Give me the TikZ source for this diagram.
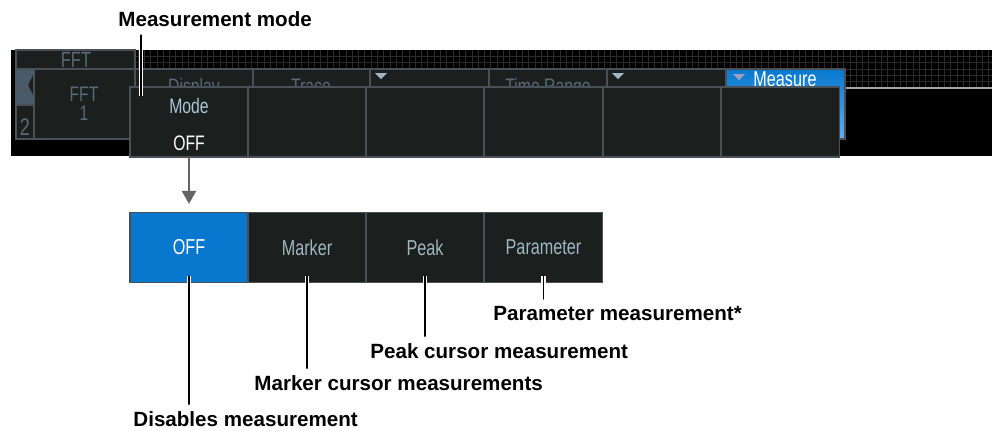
\documentclass[tikz,border=0pt]{standalone}
\usepackage{fontspec}
\setmainfont{Liberation Sans}
\newfontfamily\screenfont[FakeStretch=0.75]{Liberation Sans}
\usetikzlibrary{positioning,arrows.meta}
\definecolor{panel}{RGB}{27,31,30}
\definecolor{edge}{RGB}{74,80,88}
\definecolor{keytext}{RGB}{160,182,192}
\definecolor{modetext}{RGB}{170,200,214}
\definecolor{dimtext}{RGB}{88,106,118}
\definecolor{selblue}{RGB}{8,120,206}
\definecolor{measlight}{RGB}{96,172,240}
\definecolor{gridline}{RGB}{42,42,42}
\definecolor{tabgray}{RGB}{75,90,104}
\definecolor{arrowgray}{RGB}{100,100,100}
\tikzset{
  softkey/.style={draw=edge, fill=panel, line width=0.6pt, minimum width=59pt,
    minimum height=35pt, inner sep=0pt, text=keytext,
    font=\screenfont\fontsize{10.8}{12}\selectfont},
  screentext/.style={inner sep=0pt, anchor=base,
    font=\screenfont\fontsize{10.5}{12}\selectfont},
  callout/.style={inner sep=0pt, anchor=base west,
    font=\fontsize{10.3}{12}\selectfont\bfseries},
  leader/.style={line width=0.75pt, line cap=round,
    preaction={draw=white, line width=2.2pt}},
}

\begin{document}
\begin{tikzpicture}[x=0.5pt, y=-0.5pt]
\useasboundingbox (0,0) rectangle (992,430);

% Screen background and grid
\fill[black] (11,50) rectangle (992,156);
\foreach \gx in {138,144.3,...,992}
  \draw[gridline, line width=0.4pt] (\gx,50) -- (\gx,88);
\foreach \gy in {56.3,62.6,...,88}
  \draw[gridline, line width=0.4pt] (135,\gy) -- (992,\gy);
\draw[gray!70, line width=0.6pt] (845,88) -- (992,88);

% Menu bar behind the soft keys
\foreach \l/\r in {135/253,253/370,370/489,489/607,607/726}
  \draw[edge, fill=panel, line width=0.6pt] (\l,69) rectangle (\r,110);
\node[screentext, text=dimtext] (tabdisplay) at (194,93) {Display};
\node[screentext, text=dimtext] (tabtrace) at (311,93) {Trace};
\node[screentext, text=dimtext] (tabtime) at (548,93) {Time Range};
\fill[keytext] (375,73) -- (387,73) -- (381,79) -- cycle;
\fill[keytext] (612,73) -- (624,73) -- (618,79) -- cycle;

% Measure tab
\shade[top color=selblue, bottom color=measlight] (726,69) rectangle (845,139);
\draw[edge, line width=0.6pt] (726,69) rectangle (845,139);
\fill[gray!75!blue!60] (733,74) -- (745,74) -- (739,80) -- cycle;
\node[screentext, text=white, font=\screenfont\fontsize{10.8}{12}\selectfont]
  (tabmeasure) at (785,86) {Measure};

% FFT trace panel
\draw[edge, fill=panel, line width=0.6pt] (16,50) rectangle (135,139);
\draw[edge, line width=0.6pt] (16,69) -- (135,69);
\draw[edge, line width=0.6pt] (34,69) -- (34,139);
\fill[tabgray] (16,70) -- (34,70) -- (34,73) -- (28,85) -- (34,97) -- (34,105)
  -- (16,105) -- cycle;
\draw[edge, line width=0.6pt] (16,105) -- (34,105);
\node[screentext, text=dimtext, font=\screenfont\fontsize{11}{12}\selectfont]
  (ffthead) at (76,67) {FFT};
\node[screentext, text=dimtext] (fftname) at (84,101) {FFT};
\node[screentext, text=dimtext] (fftnum) at (84,120) {1};
\node[screentext, text=dimtext, font=\screenfont\fontsize{12}{12}\selectfont]
  (tracenum) at (25,135) {2};

% Soft keys
\foreach \i/\cx in {1/189,2/307,3/425,4/543.5,5/662,6/780.5}
  \node[softkey] (menu\i) at (\cx,122) {};
\node[screentext, text=modetext] (modelbl) at (189,113) {Mode};
\node[screentext, text=white] (modeval) at (189,150) {OFF};

% Mode selection keys
\node[softkey, fill=selblue, text=white] (keyoff) at (189,247.5) {OFF};
\node[softkey] (keymarker) at (307,247.5) {Marker};
\node[softkey] (keypeak) at (425,247.5) {Peak};
\node[softkey] (keyparam) at (543.5,247.5) {Parameter};

\draw[arrowgray, line width=1.3pt, -{Triangle[width=7pt,length=6.5pt]},
  shorten <=3pt, shorten >=4pt] (modeval.south) -- (keyoff.north);

% Callouts
\node[callout] (lblmode) at (118,26.5) {Measurement mode};
\node[callout] (lbloff) at (133,426.5) {Disables measurement};
\node[callout] (lblmarker) at (254,390.5) {Marker cursor measurements};
\node[callout] (lblpeak) at (370,358.5) {Peak cursor measurement};
\node[callout] (lblparam) at (493,320.5) {Parameter measurement*};

\coordinate (modetip) at (141,96);
\draw[leader, shorten <=4pt] (lblmode.south -| modetip) -- (modetip);
\draw[leader, shorten >=3.5pt] ([yshift=3.5pt]keyoff.south) -- (keyoff.south |- lbloff.north);
\draw[leader, shorten >=3.5pt] ([yshift=3.5pt]keymarker.south) -- (keymarker.south |- lblmarker.north);
\draw[leader, shorten >=3.5pt] ([yshift=3.5pt]keypeak.south) -- (keypeak.south |- lblpeak.north);
\draw[leader, shorten >=3.5pt] ([yshift=3.5pt]keyparam.south) -- (keyparam.south |- lblparam.north);
\end{tikzpicture}
\end{document}
